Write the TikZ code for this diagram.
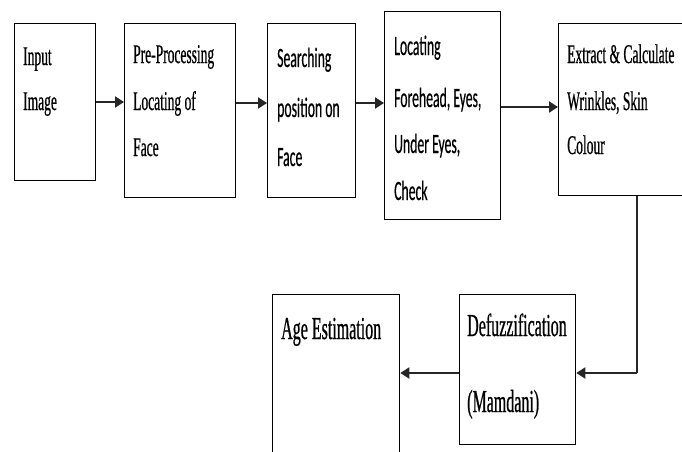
\documentclass[tikz,border=0pt]{standalone}
\usepackage{fontspec}
\setmainfont{Liberation Serif}
\newfontfamily\condserif[FakeStretch=0.5,FakeBold=0.6]{Liberation Serif}
\newfontfamily\condsans[FakeStretch=0.49,FakeBold=0.4]{Carlito}
\usetikzlibrary{arrows.meta}
\begin{document}
\begin{tikzpicture}[x=1pt,y=-1pt,
  box/.style={draw=black, line width=1.3pt, anchor=north west, inner sep=0pt},
  lbl/.style={anchor=base west, inner sep=0pt},
  tser/.style={lbl, font=\condserif\fontsize{27}{27}\selectfont},
  tsans/.style={lbl, font=\condsans\fontsize{28}{28}\selectfont},
  bser/.style={lbl, font=\condserif\fontsize{32}{32}\selectfont},
  conn/.style={draw=black!85, line width=2pt, -{Triangle[length=9pt,width=11pt]}},
  plain/.style={draw=black!85, line width=1.3pt}]
\useasboundingbox (0,0) rectangle (682,451);
\clip (0,0) rectangle (682,451);
\fill[white] (0,0) rectangle (682,451);
% boxes
\node[box, minimum width=81pt, minimum height=157pt] (b1) at (14,23) {};
\node[box, minimum width=111pt, minimum height=174pt] (b2) at (124,23) {};
\node[box, minimum width=88pt, minimum height=174pt] (b3) at (267,23) {};
\node[box, minimum width=116pt, minimum height=208pt] (b4) at (384,11) {};
\node[box, minimum width=142pt, minimum height=172pt] (b5) at (558,23) {};
\node[box, minimum width=116pt, minimum height=150pt] (b6) at (459,294) {};
\node[box, minimum width=127pt, minimum height=176pt] (b7) at (272,294) {};
% texts
\node[tser] (t11) at (23,65) {Input};
\node[tser] (t12) at (23,110) {Image};
\node[tser] (t21) at (133,63) {Pre-Processing};
\node[tser] (t22) at (133,110) {Locating of};
\node[tser] (t23) at (133,156) {Face};
\node[tsans] (t31) at (277,67) {Searching};
\node[tsans] (t32) at (277,117) {position on};
\node[tsans] (t33) at (277,166) {Face};
\node[tsans] (t41) at (394,55) {Locating};
\node[tsans] (t42) at (394,107) {Forehead, Eyes,};
\node[tsans] (t43) at (394,153) {Under Eyes,};
\node[tsans] (t44) at (394,200) {Check};
\node[tser] (t51) at (567,63) {Extract \& Calculate};
\node[tser] (t52) at (567,110) {Wrinkles, Skin};
\node[tser] (t53) at (567,154) {Colour};
\node[bser] (t61) at (467,336) {Defuzzification};
\node[bser] (t62) at (467,412) {(Mamdani)};
\node[bser] (t71) at (281,339) {Age Estimation};
% connectors
\coordinate (c1) at (637,373);
\draw[conn] (b1.east |- 0,102) -- (b2.west |- 0,102);
\draw[conn] (b2.east |- 0,103) -- (b3.west |- 0,103);
\draw[conn] (b3.east |- 0,103) -- (b4.west |- 0,103);
\draw[conn] (b4.east |- 0,107) -- (b5.west |- 0,107);
\draw[plain] (b5.south -| c1) -- (c1);
\draw[conn] (c1) -- (b6.east |- c1);
\draw[conn] (b6.west |- c1) -- (b7.east |- c1);
\end{tikzpicture}
\end{document}
